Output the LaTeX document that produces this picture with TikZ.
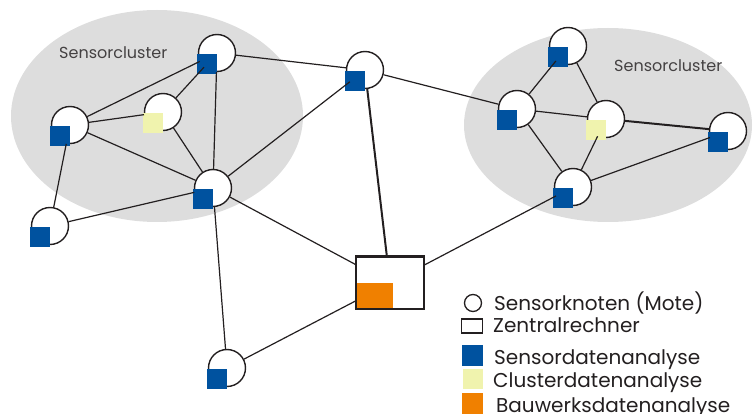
\documentclass[tikz,border=0pt]{standalone}
\usepackage{fontspec}
\setmainfont{Poppins}
\definecolor{sblue}{RGB}{0,82,159}
\definecolor{syellow}{RGB}{240,243,174}
\definecolor{sorange}{RGB}{240,128,0}
\definecolor{cgray}{RGB}{221,221,221}
\definecolor{ink}{RGB}{35,31,32}
\tikzset{
  mote/.style={circle, draw=ink, line width=1.4pt, fill=white, minimum size=37pt, inner sep=0pt},
  sq/.style={rectangle, minimum size=20pt, inner sep=0pt, anchor=north east},
  link/.style={draw=ink, line width=1.2pt},
  thicklink/.style={draw=ink, line width=2pt},
  legtext/.style={anchor=base west, inner sep=0pt, font=\fontsize{20}{22}\selectfont, text=ink},
  cltext/.style={anchor=base west, inner sep=0pt, font=\fontsize{16}{18}\selectfont, text=ink!85},
}
\begin{document}
\begin{tikzpicture}[x=1pt,y=-1pt]
\useasboundingbox (0,0) rectangle (753,414);
% clusters
\fill[cgray] (157,116) ellipse [x radius=146, y radius=106];
\fill[cgray] (608,125) ellipse [x radius=144, y radius=97];
\node[cltext] (cl1) at (59,59) {Sensorcluster};
\node[cltext] (cl2) at (614,72) {Sensorcluster};
% motes
\node[mote] (A) at (217,53) {};
\node[mote] (B) at (70,125) {};
\node[mote] (C) at (163,112) {};
\node[mote] (D) at (213,188) {};
\node[mote] (E) at (50,226) {};
\node[mote] (F) at (227,368) {};
\node[mote] (G) at (365,70) {};
\node[mote] (H) at (517,109) {};
\node[mote] (I) at (568,46) {};
\node[mote] (J) at (606,119) {};
\node[mote] (K) at (728,131) {};
\node[mote] (L) at (573,187) {};
% central computer
\node[rectangle, draw=ink, line width=1.4pt, fill=white, minimum width=68pt, minimum height=52pt, inner sep=0pt] (Z) at (390,283) {};
\draw[ink, line width=2.6pt] (Z.north west) -- (Z.north east);
\node[rectangle, fill=sorange, minimum width=36pt, minimum height=25pt, inner sep=0pt, anchor=south west] (Zs) at ([xshift=1pt,yshift=1pt]Z.south west) {};
% analysis squares
\foreach \n/\c in {A/sblue,B/sblue,D/sblue,E/sblue,F/sblue,G/sblue,H/sblue,I/sblue,K/sblue,L/sblue,C/syellow,J/syellow}{
  \node[sq, fill=\c] (\n s) at ([xshift=0.5pt,yshift=-0.5pt]\n.center) {};
}
% links
\draw[link] (A) -- (B);
\draw[link] (A) -- (C);
\draw[link] (A) -- (D);
\draw[link] (A) -- (G);
\draw[link] (B) -- (C);
\draw[link] (B) -- (D);
\draw[link] (B) -- (E);
\draw[link] (C) -- (D);
\draw[link] (D) -- (E);
\draw[link] (D) -- (G);
\draw[link] (D) -- (F);
\draw[link] (D) -- (Z);
\draw[thicklink] (G) -- (Z);
\draw[link] (G) -- (H);
\draw[link] (F) -- (Z);
\draw[link] (Z) -- (L);
\draw[link] (H) -- (I);
\draw[link] (H) -- (J);
\draw[link] (H) -- (L);
\draw[link] (I) -- (J);
\draw[thicklink] (J) -- (K);
\draw[link] (J) -- (L);
\draw[link] (L) -- (K);
% legend
\node[circle, draw=ink, line width=1.3pt, minimum width=17pt, inner sep=0pt] (lg1) at (473,303) {};
\node[legtext] (lt1) at (494,311) {Sensorknoten (Mote)};
\node[rectangle, draw=ink, line width=1.8pt, minimum width=21pt, minimum height=14pt, inner sep=0pt] (lg2) at (472,326) {};
\node[legtext] (lt2) at (493,333) {Zentralrechner};
\node[rectangle, fill=sblue, minimum size=21pt, inner sep=0pt] (lg3) at (472.5,355.5) {};
\node[legtext] (lt3) at (494,364) {Sensordatenanalyse};
\node[rectangle, fill=syellow, minimum size=20pt, inner sep=0pt] (lg4) at (472.5,379) {};
\node[legtext] (lt4) at (493,387) {Clusterdatenanalyse};
\node[rectangle, fill=sorange, minimum size=21pt, inner sep=0pt] (lg5) at (472.5,403.5) {};
\node[legtext] (lt5) at (496,412) {Bauwerksdatenanalyse};
\end{tikzpicture}
\end{document}
